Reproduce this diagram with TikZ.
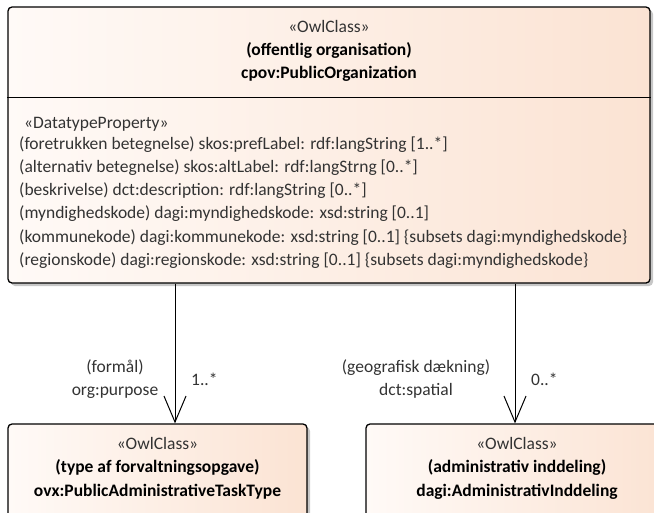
\documentclass[tikz,border=0pt]{standalone}
\usepackage{fontspec}
\setmainfont{Carlito}
\usetikzlibrary{arrows.meta,shadows}
\definecolor{boxL}{HTML}{FFFAF7}
\definecolor{boxR}{HTML}{FBE3D3}
\definecolor{txt}{HTML}{333333}
\begin{document}
\begin{tikzpicture}[x=1pt,y=-1pt,
  classbox/.style={draw=black, line width=1.3pt, rounded corners=4pt, left color=boxL, right color=boxR,
    drop shadow={shadow xshift=3pt, shadow yshift=-3pt, fill=black!22, opacity=1}, inner sep=0pt},
  hdr/.style={anchor=mid, font=\fontsize{17.5}{20}\selectfont, text=txt, inner sep=0pt},
  hdrb/.style={hdr, font=\fontsize{17.5}{20}\selectfont\bfseries, text=black},
  attr/.style={anchor=mid west, font=\fontsize{17.5}{20}\selectfont, text=txt, inner sep=0pt},
  lbl/.style={anchor=mid, font=\fontsize{17.5}{20}\selectfont, text=txt, inner sep=0pt},
  assoc/.style={line width=1pt, -{Straight Barb[length=26pt, width=22pt, line width=1pt]}}]
\useasboundingbox (0,0) rectangle (654,512);
\clip (0,0) rectangle (654,512);
% main class
\node[classbox, minimum width=642pt, minimum height=276pt] (main) at (329,145) {};
\node[hdr] (m1) at (329,30) {«OwlClass»};
\node[hdrb] (m2) at (329,53) {(offentlig organisation)};
\node[hdrb] (m3) at (329,76) {cpov:PublicOrganization};
\coordinate (divL) at (8,97);
\coordinate (divR) at (650,97);
\draw[line width=1pt] (divL -| main.west) -- (divR -| main.east);
\node[attr] (s0) at (24,126) {«DatatypeProperty»};
\node[attr] (a1) at (19,147) {(foretrukken betegnelse) skos:prefLabel: rdf:langString [1..*]};
\node[attr] (a2) at (19,170) {(alternativ betegnelse) skos:altLabel: rdf:langStrng [0..*]};
\node[attr] (a3) at (19,193) {(beskrivelse) dct:description: rdf:langString [0..*]};
\node[attr] (a4) at (19,216) {(myndighedskode) dagi:myndighedskode: xsd:string [0..1]};
\node[attr] (a5) at (19,240) {(kommunekode) dagi:kommunekode: xsd:string [0..1] \{subsets dagi:myndighedskode\}};
\node[attr] (a6) at (19,263) {(regionskode) dagi:regionskode: xsd:string [0..1] \{subsets dagi:myndighedskode\}};
% lower classes
\node[classbox, minimum width=299pt, minimum height=110pt] (task) at (157.5,479) {};
\node[hdr] (t1) at (157.5,447) {«OwlClass»};
\node[hdrb] (t2) at (157.5,470) {(type af forvaltningsopgave)};
\node[hdrb] (t3) at (157.5,494) {ovx:PublicAdministrativeTaskType};
\node[classbox, minimum width=302pt, minimum height=110pt] (adm) at (517,479) {};
\node[hdr] (d1) at (517,447) {«OwlClass»};
\node[hdrb] (d2) at (517,470) {(administrativ inddeling)};
\node[hdrb] (d3) at (517,494) {dagi:AdministrativInddeling};
% associations
\coordinate (c1) at (175,0);
\coordinate (c2) at (515,0);
\draw[assoc] (c1 |- main.south) -- (c1 |- task.north);
\draw[assoc] (c2 |- main.south) -- (c2 |- adm.north);
\node[lbl] (l1) at (115,370) {(formål)};
\node[lbl] (l2) at (115,393) {org:purpose};
\node[attr] (l3) at (191,383) {1..*};
\node[lbl] (l4) at (416,370) {(geografisk dækning)};
\node[lbl] (l5) at (416,393) {dct:spatial};
\node[attr] (l6) at (531,383) {0..*};
\end{tikzpicture}
\end{document}
